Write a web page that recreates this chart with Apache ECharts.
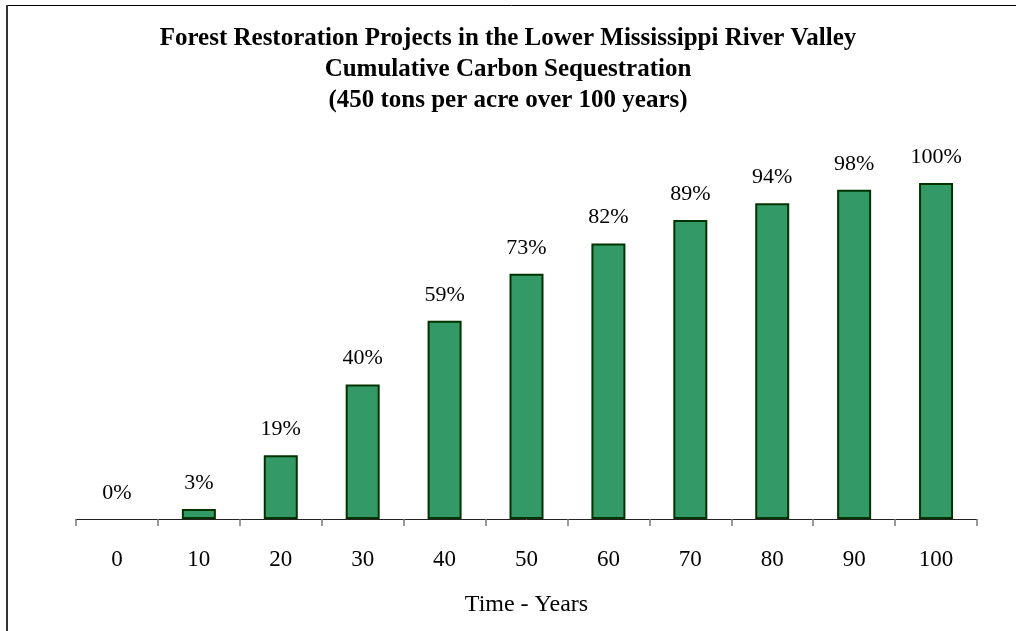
<!DOCTYPE html>
<html>
<head>
<meta charset="utf-8">
<script src="https://cdn.jsdelivr.net/npm/echarts@6/dist/echarts.min.js"></script>
<style>
  html, body { margin: 0; padding: 0; background: #fff; }
  #chart { width: 1016px; height: 631px; }
</style>
</head>
<body>
<div id="chart"></div>
<script>
const years = ['0', '10', '20', '30', '40', '50', '60', '70', '80', '90', '100']
const percent = [0, 3, 19, 40, 59, 73, 82, 89, 94, 98, 100]

const serif = '"Liberation Serif", "Times New Roman", serif'

const chart = echarts.init(document.getElementById('chart'))

// a zero-height bar should not leave its outline on the axis
const barData = percent.map(v => (v === 0 ? { value: v, itemStyle: { borderWidth: 0 } } : v))

chart.setOption({
  backgroundColor: '#fff',
  animation: false,
  title: {
    text: 'Forest Restoration Projects in the Lower Mississippi River Valley\nCumulative Carbon Sequestration\n(450 tons per acre over 100 years)',
    left: 'center',
    top: 18,
    textStyle: {
      fontFamily: serif,
      fontWeight: 'bold',
      fontSize: 25,
      lineHeight: 31,
      color: '#000'
    }
  },
  graphic: [
    {
      type: 'line',
      shape: { x1: 7, y1: 5.5, x2: 1016, y2: 5.5 },
      style: { stroke: '#000', lineWidth: 1 },
      silent: true
    },
    {
      type: 'line',
      shape: { x1: 7, y1: 5, x2: 7, y2: 631 },
      style: { stroke: '#333', lineWidth: 2 },
      silent: true
    }
  ],
  grid: {
    left: 76,
    right: 39,
    top: 183,
    bottom: 112
  },
  xAxis: {
    type: 'category',
    data: years,
    name: 'Time - Years',
    nameLocation: 'middle',
    nameGap: 74,
    nameTextStyle: {
      fontFamily: serif,
      fontSize: 24,
      color: '#000'
    },
    axisLine: { lineStyle: { color: '#222', width: 1 } },
    axisTick: { show: true, length: 7, lineStyle: { color: '#777', width: 1.5 } },
    axisLabel: {
      fontFamily: serif,
      fontSize: 23,
      color: '#000',
      margin: 29
    }
  },
  yAxis: {
    type: 'value',
    min: 0,
    max: 100,
    show: false
  },
  series: [
    {
      type: 'bar',
      data: barData,
      barWidth: 34,
      itemStyle: {
        color: '#339966',
        borderColor: '#003300',
        borderWidth: 2
      },
      label: {
        show: true,
        position: 'top',
        distance: 15,
        formatter: '{c}%',
        fontFamily: serif,
        fontSize: 22,
        color: '#000'
      }
    }
  ]
})
</script>
</body>
</html>
